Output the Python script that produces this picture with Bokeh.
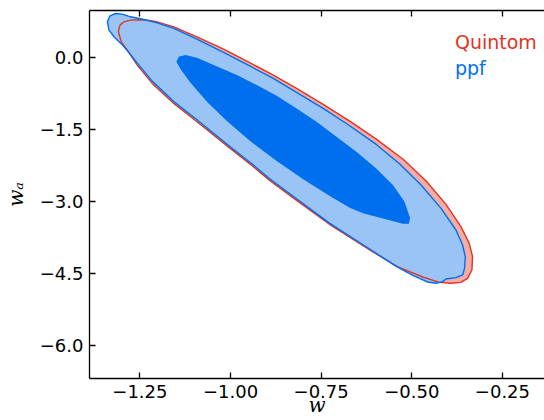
from bokeh.plotting import figure
from bokeh.models import Range1d, LinearAxis, FixedTicker, Label
from bokeh.embed import file_html
from bokeh.resources import INLINE

# ---- data ----
quintom_outer_w = [-1.3095, -1.3049, -1.294, -1.2756, -1.239, -1.2024, -1.1566, -1.0925, -1.0192,
                   -0.9551, -0.8819, -0.8178, -0.7445, -0.6712, -0.598, -0.5247, -0.4606, -0.4057,
                   -0.3645, -0.3416, -0.3324, -0.3342, -0.3462, -0.3645, -0.3919, -0.424, -0.4698,
                   -0.5385, -0.6117, -0.7216, -0.8178, -0.892, -0.9414, -1.0009, -1.0925, -1.1566,
                   -1.2161, -1.2573, -1.2848, -1.3013]
quintom_outer_wa = [0.525, 0.663, 0.732, 0.767, 0.774, 0.732, 0.628, 0.421, 0.165,
                    -0.084, -0.375, -0.652, -0.984, -1.330, -1.704, -2.119, -2.576, -3.060,
                    -3.524, -3.870, -4.147, -4.424, -4.597, -4.680, -4.700, -4.680, -4.569,
                    -4.361, -4.029, -3.503, -2.977, -2.562, -2.251, -1.898, -1.344, -0.963,
                    -0.548, -0.167, 0.144, 0.317]

ppf_outer_w = [-1.3397, -1.3324, -1.3168, -1.2985, -1.2756, -1.239, -1.2024, -1.1566, -1.0925,
               -1.0192, -0.9551, -0.8819, -0.8178, -0.7445, -0.6712, -0.598, -0.5339, -0.4744,
               -0.4194, -0.3782, -0.3599, -0.3526, -0.3544, -0.3599, -0.3782, -0.4057, -0.4148,
               -0.4332, -0.456, -0.4973, -0.543, -0.6163, -0.7262, -0.8178, -0.892, -0.9414,
               -1.0009, -1.0925, -1.1566, -1.2161, -1.2573, -1.2848, -1.3031, -1.3214, -1.3352]
ppf_outer_wa = [0.732, 0.857, 0.905, 0.891, 0.836, 0.781, 0.711, 0.594, 0.372,
                0.096, -0.154, -0.444, -0.735, -1.067, -1.427, -1.815, -2.216, -2.659,
                -3.143, -3.593, -3.905, -4.147, -4.389, -4.527, -4.583, -4.610, -4.666,
                -4.700, -4.673, -4.534, -4.347, -3.988, -3.455, -2.943, -2.527, -2.216,
                -1.863, -1.302, -0.922, -0.500, -0.126, 0.137, 0.289, 0.421, 0.559]

ppf_inner_w = [-1.1493, -1.1429, -1.1245, -1.0925, -1.0467, -0.9826, -0.9277, -0.8727, -0.8178,
               -0.7628, -0.7079, -0.6529, -0.598, -0.5522, -0.5201, -0.5046, -0.5082, -0.5247,
               -0.5614, -0.598, -0.6346, -0.6712, -0.7262, -0.7995, -0.8727, -0.946, -1.0101,
               -1.065, -1.1108, -1.1364]
ppf_inner_wa = [-0.098, 0.006, 0.040, -0.015, -0.167, -0.375, -0.583, -0.804, -1.067,
                -1.344, -1.655, -1.967, -2.313, -2.659, -3.005, -3.351, -3.462, -3.462,
                -3.392, -3.316, -3.247, -3.129, -2.887, -2.541, -2.161, -1.745, -1.330,
                -0.929, -0.527, -0.271]

x_ticks = [-1.25, -1.0, -0.75, -0.5, -0.25]
x_tick_labels = ["\u22121.25", "\u22121.00", "\u22120.75", "\u22120.50", "\u22120.25"]
y_ticks = [-6.0, -4.5, -3.0, -1.5, 0.0]
y_tick_labels = ["\u22126.0", "\u22124.5", "\u22123.0", "\u22121.5", "0.0"]
legend_names = ["Quintom", "ppf"]
x_title = "w"
y_title = "w\u2090"

RED = "#E03424"
RED_FILL = "#F3ACA6"
BLUE = "#006FED"
BLUE_FILL = "#9AC4F6"
BLUE_DARK = "#006FED"

p = figure(width=544, height=420,
           x_range=Range1d(-1.389, -0.134), y_range=Range1d(-6.678, 0.967),
           output_backend="svg", toolbar_location=None,
           min_border_left=87, min_border_right=0, min_border_top=10, min_border_bottom=42)
p.grid.grid_line_color = None
p.outline_line_color = None
p.background_fill_color = "white"
p.border_fill_color = "white"

p.patch(quintom_outer_w, quintom_outer_wa, fill_color=RED_FILL, line_color=None)
p.patch(ppf_outer_w, ppf_outer_wa, fill_color=BLUE_FILL, line_color=None)
p.patch(quintom_outer_w, quintom_outer_wa, fill_color=None, line_color=RED, line_width=1.4)
p.patch(ppf_outer_w, ppf_outer_wa, fill_color=None, line_color=BLUE, line_width=1.4)
p.patch(ppf_inner_w, ppf_inner_wa, fill_color=BLUE_DARK, line_color=None)


def style(ax):
    ax.axis_line_width = 1.3
    ax.axis_line_color = "black"
    ax.major_tick_in = 6
    ax.major_tick_out = 0
    ax.major_tick_line_width = 1.3
    ax.major_tick_line_color = "black"
    ax.minor_tick_line_color = None
    ax.major_label_text_font = "DejaVu Sans"
    ax.major_label_text_font_size = "18px"
    ax.major_label_text_color = "black"
    ax.major_label_standoff = 6
    ax.axis_label_text_font = "DejaVu Serif"
    ax.axis_label_text_font_style = "italic"
    ax.axis_label_text_font_size = "20px"
    ax.axis_label_text_color = "black"


p.xaxis.ticker = FixedTicker(ticks=x_ticks)
p.yaxis.ticker = FixedTicker(ticks=y_ticks)
p.xaxis.major_label_overrides = dict(zip(x_ticks, x_tick_labels))
p.yaxis.major_label_overrides = dict(zip(y_ticks, y_tick_labels))
style(p.xaxis[0])
style(p.yaxis[0])
p.xaxis.axis_label = x_title
p.xaxis.axis_label_standoff = -8
p.yaxis.axis_label = y_title
p.yaxis.axis_label_standoff = 9

top = LinearAxis(ticker=FixedTicker(ticks=x_ticks))
style(top)
top.major_label_overrides = {t: "" for t in x_ticks}
top.major_label_standoff = 0
p.add_layout(top, "above")

p.add_layout(Label(x=-0.381, y=0.313, text=legend_names[0], text_color=RED, text_font="DejaVu Sans",
                   text_font_size="19px", text_baseline="alphabetic", text_align="left"))
p.add_layout(Label(x=-0.381, y=-0.22, text=legend_names[1], text_color=BLUE, text_font="DejaVu Sans",
                   text_font_size="19px", text_baseline="alphabetic", text_align="left"))

open("out.html", "w").write(file_html(p, INLINE))
